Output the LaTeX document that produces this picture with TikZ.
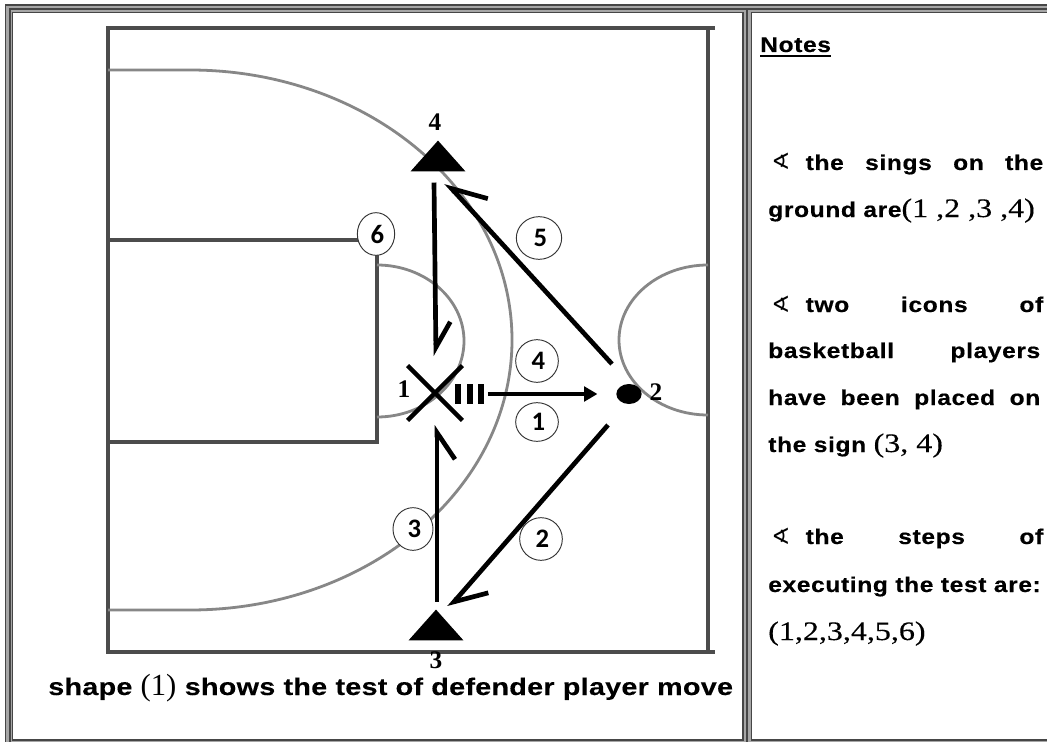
\documentclass[tikz,border=0pt]{standalone}
\usepackage{fontspec}
\setmainfont{Liberation Sans}
\newfontfamily\notefont[LetterSpace=3, FakeStretch=1.15, FakeBold=0.4]{Liberation Sans Bold}
\newfontfamily\capfont[FakeStretch=1.2, LetterSpace=1, FakeBold=0.2]{Liberation Sans Bold}
\newfontfamily\numfont{Liberation Serif}
\newfontfamily\widenumfont[FakeStretch=1.2, FakeBold=0.3]{Liberation Serif}
\newfontfamily\roundfont{Carlito Bold}
\newfontfamily\symfont{DejaVu Sans}
\usetikzlibrary{shapes.geometric, shapes.misc, arrows.meta, positioning, calc}
\definecolor{courtgray}{RGB}{135,135,135}
\definecolor{framegray}{RGB}{70,70,70}
\newcommand{\notenum}[1]{{\fontsize{20}{20}\selectfont\widenumfont #1}}
\newcommand{\notemark}{{\fontsize{17}{17}\selectfont\symfont ∢}}
\newcommand{\fullline}[1]{\makebox[204pt][s]{#1}}
\newcommand{\stepnum}[1]{\raisebox{-2.5pt}{\hspace{2pt}#1}}
\begin{document}
\begin{tikzpicture}[x=0.75pt, y=-0.75pt,
    frameline/.style={draw=framegray, line width=1pt},
    courtline/.style={draw=black!70, line width=2.4pt},
    arcline/.style={draw=courtgray, line width=2.1pt},
    roundlabel/.style={ellipse, draw=black!80, fill=white, line width=0.7pt, inner sep=0pt, minimum width=32pt, minimum height=32pt, font=\fontsize{20}{20}\selectfont\roundfont},
    groundlabel/.style={inner sep=0pt, font=\fontsize{19}{19}\selectfont\numfont\bfseries},
    cone/.style={isosceles triangle, isosceles triangle stretches, shape border rotate=90, fill=black, inner sep=0pt, minimum width=41pt, minimum height=23pt},
    moveline/.style={draw=black, line width=3.5pt},
    notetext/.style={inner sep=0pt, anchor=base west, font=\fontsize{16}{16}\selectfont\notefont}]
\useasboundingbox (0,0) rectangle (1047,742);
\fill[black!35] (5,4) rectangle (1047,13);
\fill[black!35] (5,4) rectangle (13,742);
\fill[black!35] (743,4) rectangle (752,742);
\fill[black!35] (5,740) rectangle (1047,742);
\fill[white] (13,13) rectangle (743,740);
\fill[white] (752,13) rectangle (1047,740);
\draw[frameline] (5.5,742) -- (5.5,5) -- (1047,5);
\draw[frameline, line width=1.5pt] (9.5,742) -- (9.5,9) -- (1047,9);
\draw[frameline] (12.5,12.5) rectangle (743,740);
\draw[frameline] (751.5,12.5) -- (751.5,740) -- (1047,740);
\draw[frameline] (751.5,12.5) -- (1047,12.5);
\draw[frameline, line width=1.5pt] (747,9) -- (747,742);

\draw[courtline] (715,28) -- (108,28) -- (108,652) -- (715,652);
\draw[courtline] (708,28) -- (708,652);
\draw[courtline] (108,240) -- (377,240) -- (377,442) -- (108,442);
\draw[arcline] (108,70) -- (190,70) arc[start angle=-90, end angle=90, x radius=322, y radius=270] -- (108,610);
\draw[arcline] (377,265) arc[start angle=-90, end angle=90, x radius=87, y radius=76];
\draw[arcline] (708,265) arc[start angle=270, end angle=90, x radius=89, y radius=75];

\node[roundlabel, minimum width=28pt] (step6) at (376,234) {\stepnum{6}};
\node[roundlabel, minimum width=34pt] (step5) at (539,238) {\stepnum{5}};
\node[roundlabel] (step4) at (537,361) {\stepnum{4}};
\node[roundlabel, minimum height=29pt] (step1) at (537,422) {\stepnum{1}};
\node[roundlabel, minimum width=30pt] (step3) at (413,529) {\stepnum{3}};
\node[roundlabel] (step2) at (541,539) {\stepnum{2}};

\node[cone] (cone4) at (438,159) {};
\node[cone] (cone3) at (436,628) {};
\node[draw=black, line width=3.2pt, cross out, inner sep=0pt, minimum size=38pt] (defender) at (435,393) {};
\node[ellipse, fill=black, inner sep=0pt, minimum width=19pt, minimum height=15pt] (ball) at (629,394) {};
\foreach \i/\x in {1/458, 2/470, 3/481}
    \node[fill=black, inner sep=0pt, minimum width=4pt, minimum height=15pt] (tick\i) at (\x,394) {};

\node[groundlabel] (num4) at (435,122) {4};
\node[groundlabel] (num3) at (436,660) {3};
\node[groundlabel] (num1) at (404,389) {1};
\node[groundlabel] (num2) at (656,392) {2};

\draw[moveline, -{Triangle[length=10pt, width=11pt]}, shorten <=3pt, shorten >=14pt] (tick3) -- (ball);
\draw[moveline, -{Straight Barb[harpoon, length=22pt, width=30pt]}] ([shift={(-21,31)}]ball.center) -- ([shift={(13,-33)}]cone3.south);
\draw[moveline, -{Straight Barb[harpoon, swap, length=20pt, width=27pt]}] ([shift={(1,-7)}]cone3.north) -- ([shift={(2,32)}]defender.center);
\draw[moveline, -{Straight Barb[harpoon, swap, length=24pt, width=30pt]}] ([shift={(-17,-30)}]ball.center) -- ([shift={(8,11)}]cone4.south);
\draw[moveline, -{Straight Barb[harpoon, length=19pt, width=22pt]}] ([shift={(-4,11)}]cone4.south) -- ([shift={(1,-37)}]defender.center);

\node[anchor=base west, inner sep=0pt, font=\fontsize{18}{18}\selectfont\capfont] (caption) at (48,695) {shape {\fontsize{23}{23}\selectfont\numfont (1)} shows the test of defender player move};

\node[notetext] (notes) at (760,52) {Notes};
\draw[line width=1.2pt] (notes.south west |- 0,56) -- (notes.south east |- 0,56);
\node[notetext] (line1) at (771,170) {\fullline{\notemark\hspace{6pt} the\hfill sings\hfill on\hfill the}};
\node[notetext] (line2) at (768,217) {\fullline{ground are\notenum{(1 ,2 ,3 ,4)}\hfill}};
\node[notetext] (line3) at (771,312) {\fullline{\notemark\hspace{6pt} two\hfill icons\hfill of}};
\node[notetext] (line4) at (768,358) {\fullline{basketball\hfill players}};
\node[notetext] (line5) at (768,405) {\fullline{have\hfill been\hfill placed\hfill on}};
\node[notetext] (line6) at (768,452) {the sign \notenum{(3, 4)}};
\node[notetext] (line7) at (771,544) {\fullline{\notemark\hspace{6pt} the\hfill steps\hfill of}};
\node[notetext] (line8) at (768,592) {executing the test are:};
\node[notetext] (line9) at (768,640) {\notenum{(1,2,3,4,5,6)}};
\end{tikzpicture}
\end{document}
